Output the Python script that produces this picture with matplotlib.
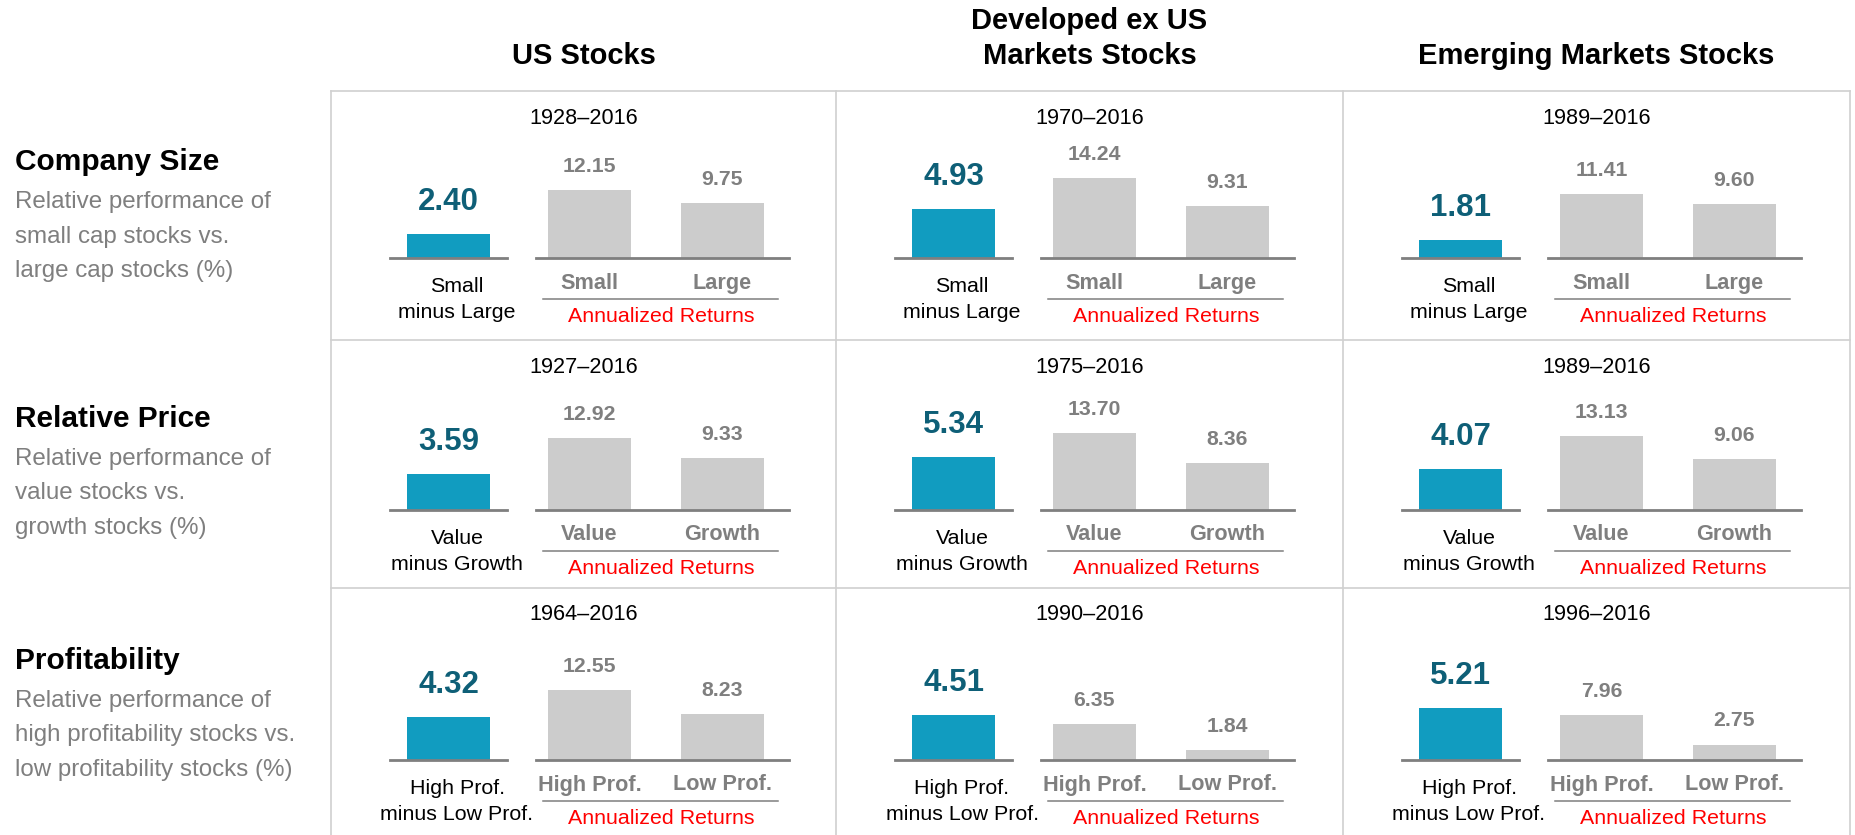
import matplotlib
matplotlib.use('Agg')
from matplotlib import pyplot as plt
from matplotlib.lines import Line2D

plt.rcParams['font.family'] = ['Liberation Sans', 'DejaVu Sans']

# ---- data ----
columnTitles = ['US Stocks', 'Developed ex US\nMarkets Stocks', 'Emerging Markets Stocks']
rowTitles = ['Company Size', 'Relative Price', 'Profitability']
rowDescriptions = [
    ['Relative performance of', 'small cap stocks vs.', 'large cap stocks (%)'],
    ['Relative performance of', 'value stocks vs.', 'growth stocks (%)'],
    ['Relative performance of', 'high profitability stocks vs.', 'low profitability stocks (%)'],
]
periods = [
    ['1928–2016', '1970–2016', '1989–2016'],
    ['1927–2016', '1975–2016', '1989–2016'],
    ['1964–2016', '1990–2016', '1996–2016'],
]
premiums = [
    [2.40, 4.93, 1.81],
    [3.59, 5.34, 4.07],
    [4.32, 4.51, 5.21],
]
highReturns = [
    [12.15, 14.24, 11.41],
    [12.92, 13.70, 13.13],
    [12.55, 6.35, 7.96],
]
lowReturns = [
    [9.75, 9.31, 9.60],
    [9.33, 8.36, 9.06],
    [8.23, 1.84, 2.75],
]
categoryNames = [('Small', 'Large'), ('Value', 'Growth'), ('High Prof.', 'Low Prof.')]
premiumNames = [('Small', 'minus Large'), ('Value', 'minus Growth'), ('High Prof.', 'minus Low Prof.')]

# ---- style ----
BLUE = '#119CC0'
DARK_BLUE = '#0E5F77'
LIGHT_GRAY = '#CCCCCC'
MID_GRAY = '#7F7F7F'
GRID_GRAY = '#D0D0D0'

W, H = 1855, 835
fig = plt.figure(figsize=(W / 100, H / 100), dpi=100)


def fx(x):
    return x / W


def fy(y):
    return 1 - y / H


def hline(x0, x1, y, color, lw):
    fig.add_artist(Line2D([fx(x0), fx(x1)], [fy(y), fy(y)], color=color, lw=lw,
                          transform=fig.transFigure))


def vline(x, y0, y1, color, lw):
    fig.add_artist(Line2D([fx(x), fx(x)], [fy(y0), fy(y1)], color=color, lw=lw,
                          transform=fig.transFigure))


colLefts = [331, 836, 1343]
colRight = 1850
rowTops = [91, 340, 588]
baselines = [258, 510, 760]
rowTitleY = [162, 419, 661]

# table grid
hline(colLefts[0], colRight, rowTops[0], GRID_GRAY, 1.2)
for t in rowTops[1:]:
    hline(colLefts[0], colRight, t, GRID_GRAY, 1.2)
for x in colLefts + [colRight]:
    vline(x, rowTops[0], H + 5, GRID_GRAY, 1.2)

# column titles
for j, title in enumerate(columnTitles):
    cx = (colLefts[j] + (colLefts[j + 1] if j < 2 else colRight)) / 2
    lines = title.split('\n')
    for k, line in enumerate(lines):
        y = 56 - 35 * (len(lines) - 1 - k)
        fig.text(fx(cx), fy(y), line, ha='center', va='center', fontsize=21,
                 fontweight='bold', color='black')

# row titles
for i in range(3):
    fig.text(fx(15), fy(rowTitleY[i]), rowTitles[i], ha='left', va='center',
             fontsize=21.5, fontweight='bold', color='black')
    for k, line in enumerate(rowDescriptions[i]):
        fig.text(fx(15), fy(rowTitleY[i] + 40 + 34.5 * k), line, ha='left', va='center',
                 fontsize=17.4, color=MID_GRAY)

BLUE_SCALE = 10.0   # px per percent
GRAY_SCALE = 5.6
AX_H = 120

for i in range(3):
    base = baselines[i]
    for j in range(3):
        left = colLefts[j]
        right = colLefts[j + 1] if j < 2 else colRight
        cx = (left + right) / 2

        fig.text(fx(cx), fy(rowTops[i] + 27), periods[i][j], ha='center', va='center',
                 fontsize=15.6, color='black')

        # premium bar
        axB = fig.add_axes([fx(left + 59), fy(base), (117) / W, AX_H / H])
        v = premiums[i][j]
        axB.bar([0], [v], width=83 / 117, color=BLUE)
        axB.set_xlim(-0.5, 0.5)
        axB.set_ylim(0, AX_H / BLUE_SCALE)
        axB.annotate('{:.2f}'.format(v), (0, v), xytext=(0, 23), textcoords='offset points',
                     ha='center', va='center', fontsize=22.5, fontweight='bold',
                     color=DARK_BLUE, annotation_clip=False)

        # annualized return bars
        axG = fig.add_axes([fx(left + 205), fy(base), 253 / W, AX_H / H])
        vals = [highReturns[i][j], lowReturns[i][j]]
        axG.bar([0, 1], vals, width=83 / 133, color=LIGHT_GRAY)
        axG.set_xlim(-53.5 / 133, 1 + 66.5 / 133)
        axG.set_ylim(0, AX_H / GRAY_SCALE)
        for k, val in enumerate(vals):
            axG.annotate('{:.2f}'.format(val), (k, val), xytext=(0, 17),
                         textcoords='offset points', ha='center', va='center',
                         fontsize=15.3, fontweight='bold', color=MID_GRAY,
                         annotation_clip=False)

        for ax in (axB, axG):
            ax.patch.set_visible(False)
            for s in ('top', 'left', 'right'):
                ax.spines[s].set_visible(False)
            ax.spines['bottom'].set_color(MID_GRAY)
            ax.spines['bottom'].set_linewidth(2)
            ax.set_xticks([])
            ax.set_yticks([])

        # labels below
        for k, name in enumerate(categoryNames[i]):
            fig.text(fx(left + 258.5 + 133 * k), fy(base + 25), name, ha='center',
                     va='center', fontsize=15.6, fontweight='bold', color=MID_GRAY)
        hline(left + 212, left + 447, base + 41, MID_GRAY, 1.1)
        fig.text(fx(left + 330), fy(base + 59), 'Annualized Returns', ha='center',
                 va='center', fontsize=15.4, color='#FF0000')
        for k, line in enumerate(premiumNames[i]):
            fig.text(fx(left + 126), fy(base + 29 + 25 * k), line, ha='center',
                     va='center', fontsize=15.4, color='black')

plt.savefig('out.png', dpi=100)
